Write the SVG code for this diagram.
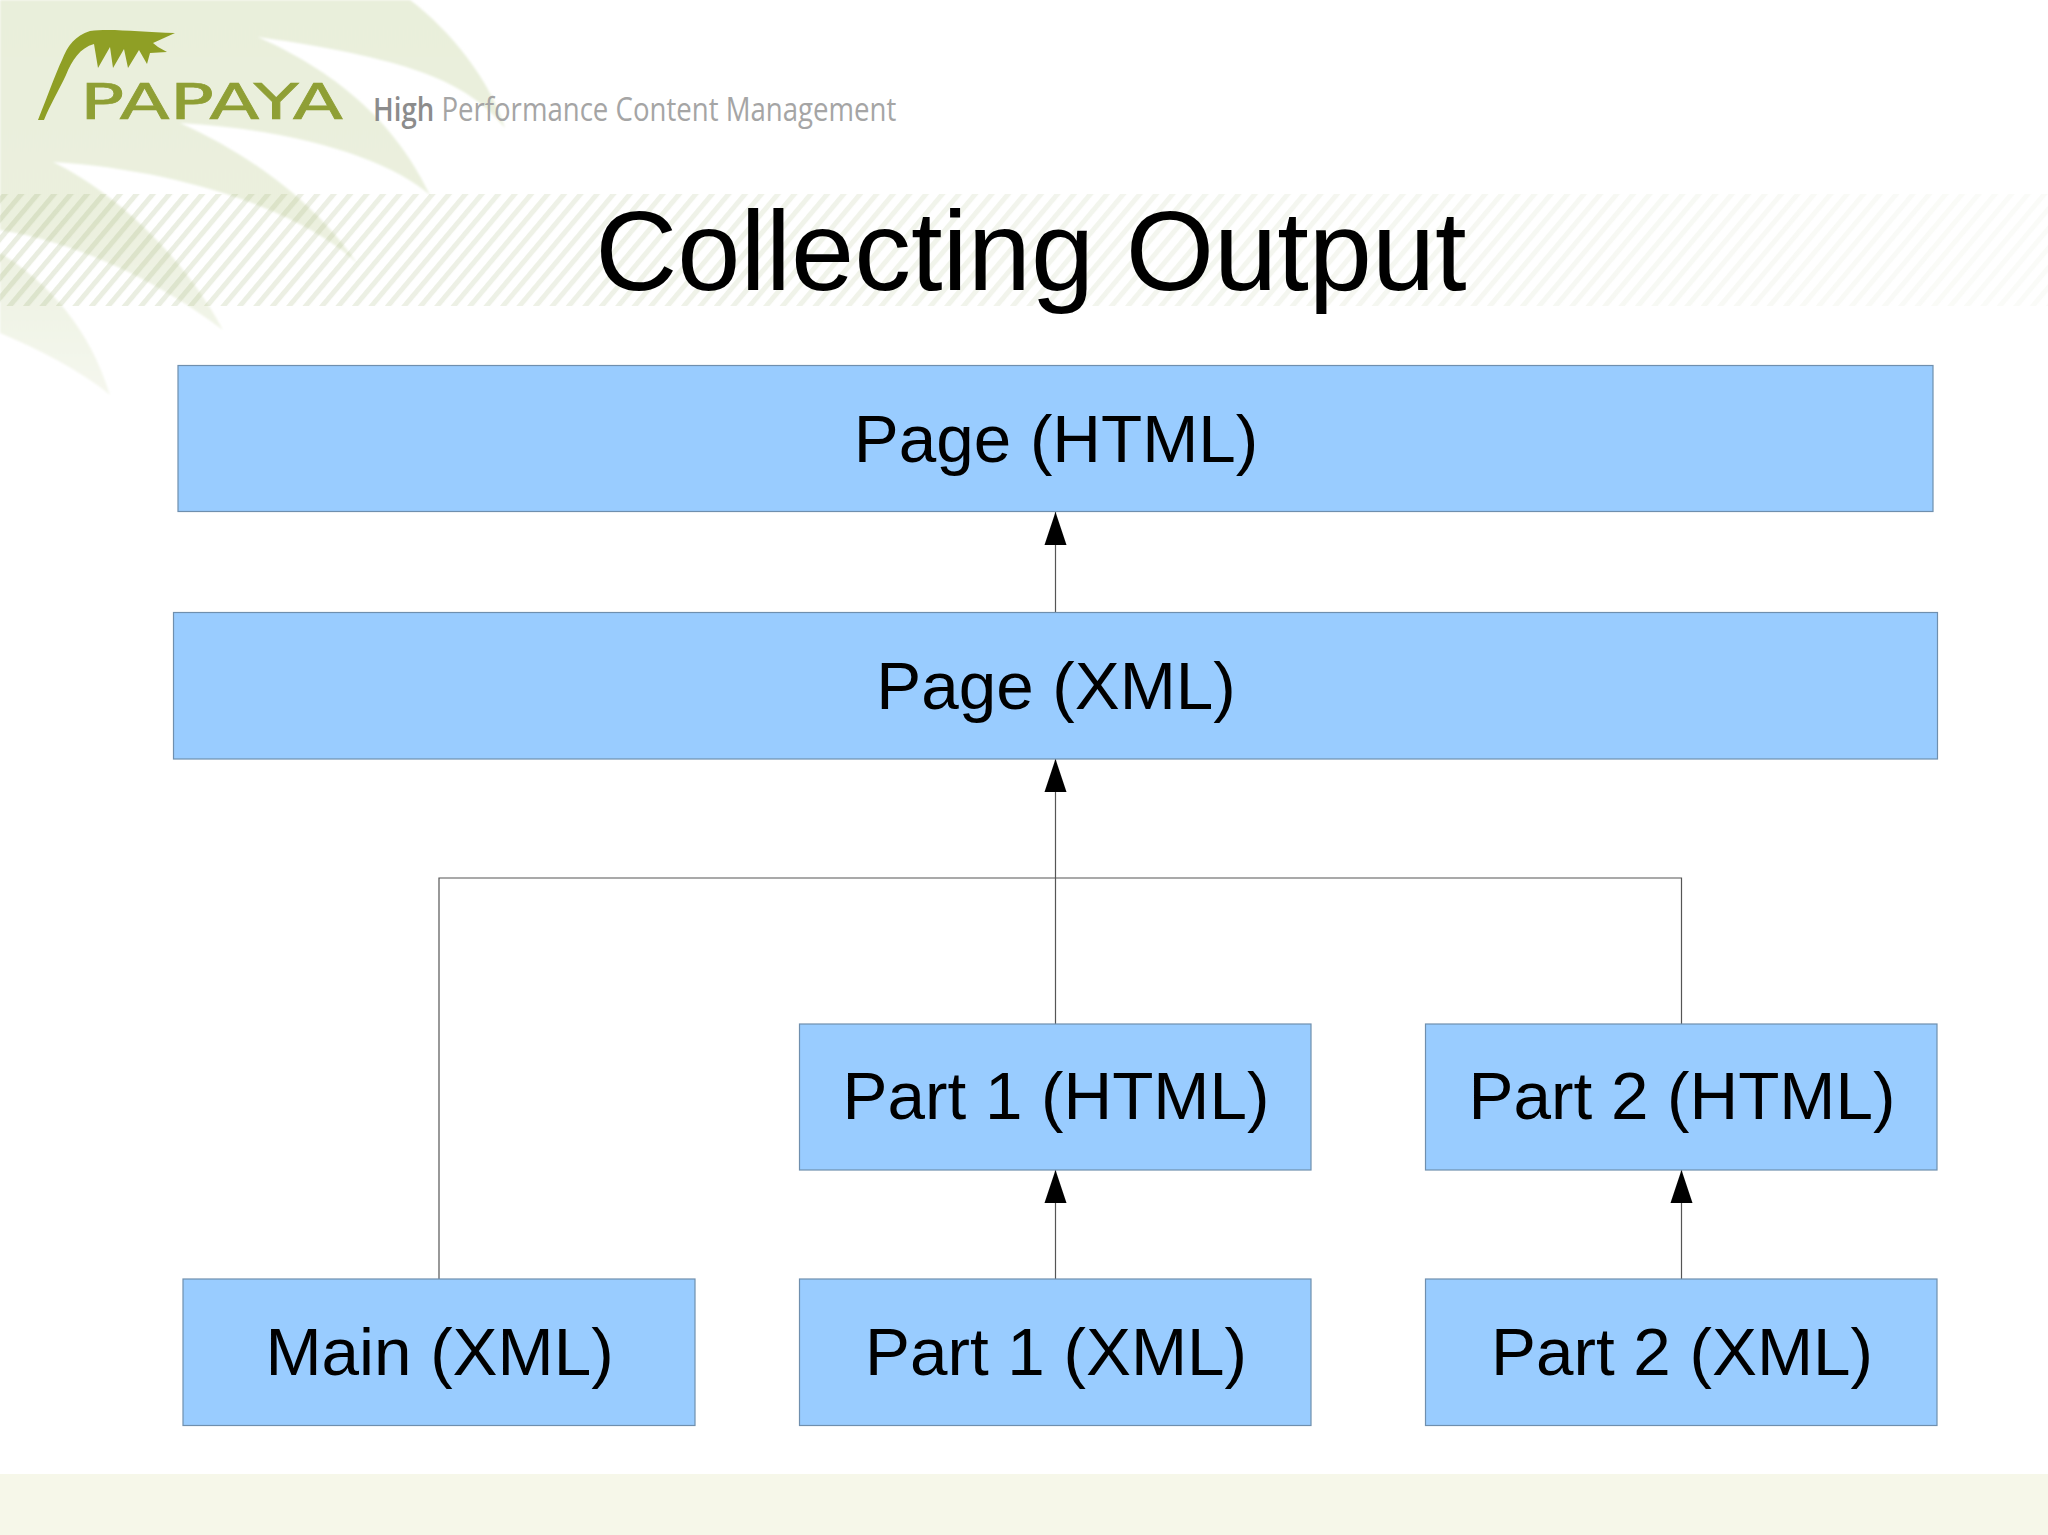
<svg xmlns="http://www.w3.org/2000/svg" width="2048" height="1535" viewBox="0 0 2048 1535">
<style>
.box{fill:#99ccff;stroke:#6f8fae;stroke-width:1.2}
.lbl{font-family:"Liberation Sans",Arial,sans-serif;font-size:67.4px;fill:#000;text-anchor:middle}
.con{fill:none;stroke:#555;stroke-width:1.2}
</style>
<defs>
<marker id="arrow" markerUnits="userSpaceOnUse" markerWidth="34" markerHeight="24" refX="33" refY="12" orient="auto"><path d="M0,1 L33,12 L0,23 Z" fill="#000"/></marker>
<pattern id="stripes" patternUnits="userSpaceOnUse" width="12.6" height="12.6" patternTransform="rotate(40)"><rect width="5" height="12.6" fill="#a3b47c"/></pattern>
<linearGradient id="fade" x1="0" y1="0" x2="1" y2="0"><stop offset="0" stop-color="#fff" stop-opacity=".24"/><stop offset=".3" stop-color="#fff" stop-opacity=".18"/><stop offset="1" stop-color="#fff" stop-opacity=".05"/></linearGradient>
<mask id="bandmask" maskUnits="userSpaceOnUse" x="0" y="194" width="2048" height="112"><rect x="0" y="194" width="2048" height="112" fill="url(#fade)"/></mask>
<linearGradient id="leaf" x1="0" y1="0" x2="0" y2="1"><stop offset="0" stop-color="#e9efdb"/><stop offset=".55" stop-color="#ebf0de"/><stop offset="1" stop-color="#f5f7ee"/></linearGradient>
<filter id="soft" x="-5%" y="-5%" width="110%" height="110%"><feGaussianBlur stdDeviation="1.2"/></filter>
</defs>
<rect width="2048" height="1535" fill="#fff"/>
<rect id="footer" x="0" y="1474" width="2048" height="61" fill="#f6f7e9"/>
<path id="leaves" fill="url(#leaf)" filter="url(#soft)" d="M0,0 L410,0 C450,30 490,80 505,128 C470,85 420,60 258,37 C320,65 390,110 430,195 C390,160 300,130 180,123 C240,150 310,195 357,263 C300,210 180,170 53,162 C110,190 180,250 223,330 C170,290 90,245 0,230 L0,253 C50,283 90,330 110,395 C80,370 40,350 0,333 Z"/>
<rect id="band" x="0" y="194" width="2048" height="112" fill="url(#stripes)" mask="url(#bandmask)"/>
<g id="logo">
<path fill="#8f9f25" d="M38,120 C48,95 55,75 62,60 C68,45 75,36 90,31 C110,28 140,32 175,33 L153,43 L158,47 L167,52 L150,53 L147,64 L139,50 L128,68 L124,49 L113,68 L110,47 L98,68 L94,44 C80,48 72,60 66,75 C58,92 50,105 44,120 Z"/>
<text transform="translate(80,119) scale(1.497,1)" font-family="'DejaVu Sans',sans-serif" font-size="49" fill="#8f9f35" stroke="#8f9f35" stroke-width=".7">PAPAYA</text>
<text transform="translate(373,121) scale(.836,1)" font-family="'Open Sans',sans-serif" font-size="33" fill="#a5a5a5"><tspan fill="#8c8c8c" font-weight="600">High</tspan> Performance Content Management</text>
</g>
<text id="title" x="1031" y="290" font-family="'Liberation Sans',Arial,sans-serif" font-size="113.6" fill="#000" text-anchor="middle">Collecting Output</text>
<g id="connectors">
<path class="con" d="M439,1279 V878 H1055"/>
<path class="con" d="M1681.5,1024 V878 H1055"/>
<path class="con" d="M1055.5,612 V512" marker-end="url(#arrow)"/>
<path class="con" d="M1055.5,1024 V759" marker-end="url(#arrow)"/>
<path class="con" d="M1055.5,1279 V1170" marker-end="url(#arrow)"/>
<path class="con" d="M1681.5,1279 V1170" marker-end="url(#arrow)"/>
</g>
<g id="page-html"><rect class="box" x="178" y="365.5" width="1755" height="146"/><text class="lbl" x="1056" y="462">Page (HTML)</text></g>
<g id="page-xml"><rect class="box" x="173.5" y="612.5" width="1764" height="146.5"/><text class="lbl" x="1056" y="709">Page (XML)</text></g>
<g id="part1-html"><rect class="box" x="799.5" y="1024" width="511.5" height="146"/><text class="lbl" x="1056" y="1119">Part 1 (HTML)</text></g>
<g id="part2-html"><rect class="box" x="1425.5" y="1024" width="511.5" height="146"/><text class="lbl" x="1682" y="1119">Part 2 (HTML)</text></g>
<g id="main-xml"><rect class="box" x="183" y="1279" width="512" height="146.5"/><text class="lbl" x="439.5" y="1375">Main (XML)</text></g>
<g id="part1-xml"><rect class="box" x="799.5" y="1279" width="511.5" height="146.5"/><text class="lbl" x="1056" y="1375">Part 1 (XML)</text></g>
<g id="part2-xml"><rect class="box" x="1425.5" y="1279" width="511.5" height="146.5"/><text class="lbl" x="1682" y="1375">Part 2 (XML)</text></g>
</svg>
